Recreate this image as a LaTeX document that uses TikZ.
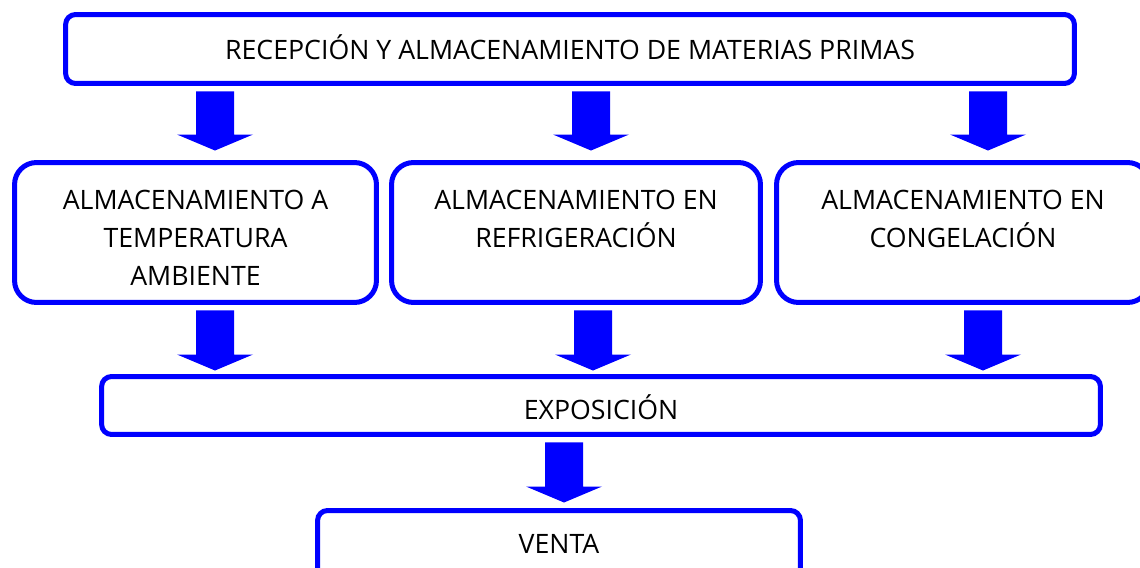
\documentclass[tikz,border=0pt]{standalone}
\usepackage{fontspec}
\setmainfont{Open Sans}
\usetikzlibrary{calc}

\definecolor{azul}{RGB}{0,0,255}

\tikzset{
  caja/.style={draw=azul, line width=0.1cm, fill=white, rounded corners=0.2cm, inner sep=0pt},
  texto/.style={font=\fontsize{15.2}{21.5}\selectfont, inner sep=0pt, text height=0.38cm, text depth=0pt},
  rotulo/.style={font=\fontsize{15.2}{21.5}\selectfont, align=center, inner sep=0pt, anchor=north},
}

% bloque de flecha: #1 caja de arriba, #2 caja de abajo, #3 eje, #4 hueco en la punta
\newcommand{\flecha}[4]{%
  \coordinate (ini) at ($(#1.south -| #3)+(0,5.5)$);
  \coordinate (fin) at ($(#2.north -| #3)+(0,-#4)$);
  \fill[azul] ($(ini)+(-19,0)$) -- ($(fin)+(-19,-16)$) -- ($(fin)+(-38,-16)$) -- (fin)
    -- ($(fin)+(38,-16)$) -- ($(fin)+(19,-16)$) -- ($(ini)+(19,0)$) -- cycle;}

\begin{document}
\begin{tikzpicture}[x=0.02cm, y=-0.02cm]
  \useasboundingbox (0,0) rectangle (1140,568);

  % Cajas:
  \node[caja, minimum width=20.18cm, minimum height=1.38cm] (rec) at (570,49) {};
  \node[caja, rounded corners=0.44cm, minimum width=7.24cm, minimum height=2.8cm] (amb) at (195.5,232.5) {};
  \node[caja, rounded corners=0.44cm, minimum width=7.38cm, minimum height=2.8cm] (ref) at (576,232.5) {};
  \node[caja, rounded corners=0.44cm, minimum width=7.46cm, minimum height=2.8cm] (con) at (963,232.5) {};
  \node[caja, minimum width=19.98cm, minimum height=1.16cm] (expo) at (601,405.5) {};
  \node[caja, minimum width=9.66cm, minimum height=1.34cm] (venta) at (559,544) {};

  % Textos:
  \node[texto] (t-rec) at ($(rec)+(0,1.5)$) {RECEPCIÓN Y ALMACENAMIENTO DE MATERIAS PRIMAS};
  \node[rotulo] (t-amb) at ($(amb.north)+(0,30)$) {ALMACENAMIENTO A\\TEMPERATURA\\AMBIENTE};
  \node[rotulo] (t-ref) at ($(ref.north)+(0,30)$) {ALMACENAMIENTO EN\\REFRIGERACIÓN};
  \node[rotulo] (t-con) at ($(con.north)+(0,30)$) {ALMACENAMIENTO EN\\CONGELACIÓN};
  \node[texto] (t-expo) at ($(expo)+(0,4)$) {EXPOSICIÓN};
  \node[texto] (t-venta) at (venta) {VENTA};

  % Flechas:
  \coordinate (e1) at (215,0);
  \coordinate (e2) at (591,0);
  \coordinate (e3) at (988,0);
  \coordinate (e4) at (593,0);
  \coordinate (e5) at (983,0);
  \coordinate (e6) at (564,0);
  \flecha{rec}{amb}{e1}{9.5}
  \flecha{rec}{ref}{e2}{9.5}
  \flecha{rec}{con}{e3}{9.5}
  \flecha{amb}{expo}{e1}{3.5}
  \flecha{ref}{expo}{e4}{3.5}
  \flecha{con}{expo}{e5}{3.5}
  \flecha{expo}{venta}{e6}{5.5}
\end{tikzpicture}
\end{document}
